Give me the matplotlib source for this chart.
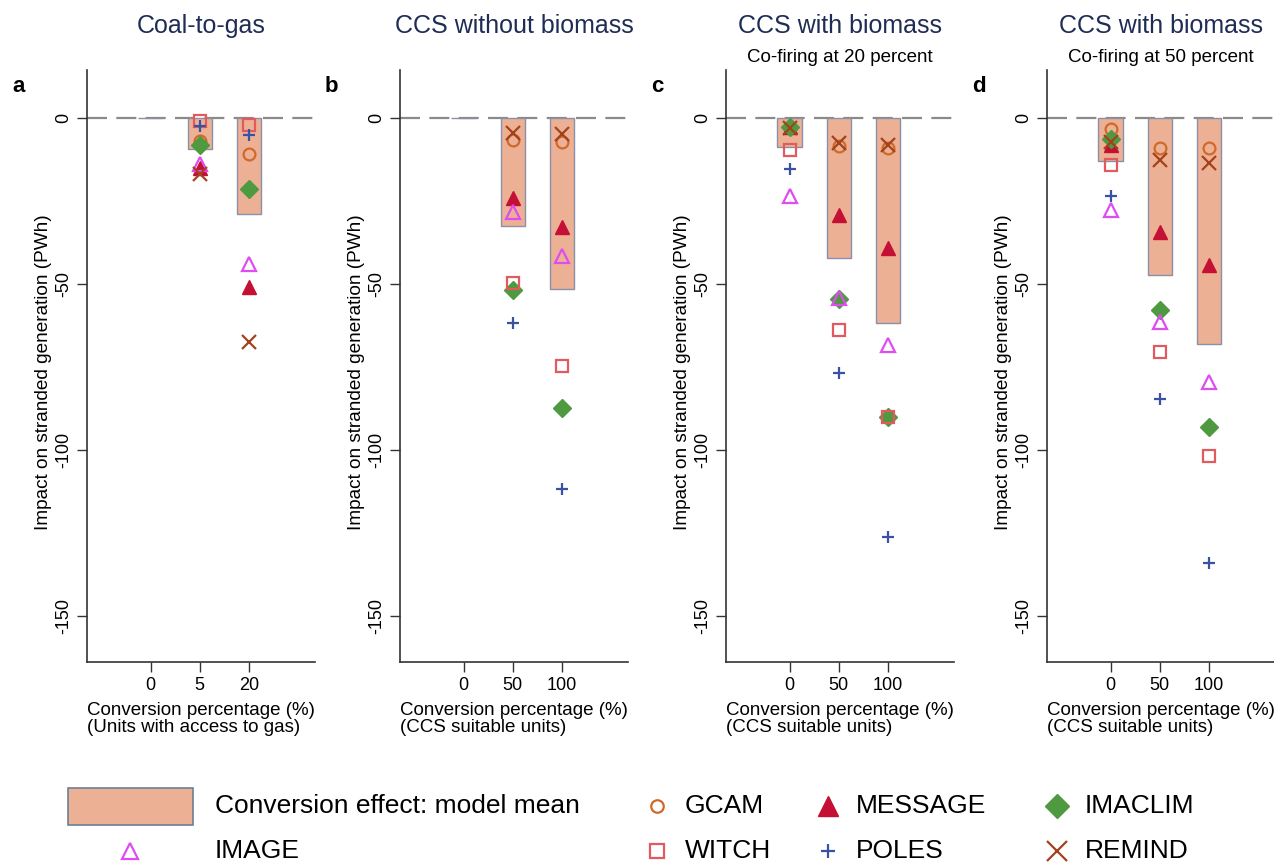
import numpy as np
import matplotlib
matplotlib.use('Agg')
import matplotlib.pyplot as plt
from matplotlib.patches import Rectangle

plt.rcParams['font.family'] = ['Liberation Sans', 'DejaVu Sans']

# panel text
letters = ['a', 'b', 'c', 'd']
titles = ['Coal-to-gas', 'CCS without biomass', 'CCS with biomass', 'CCS with biomass']
subtitles = ['', '', 'Co-firing at 20 percent', 'Co-firing at 50 percent']
xticklabels = [['0', '5', '20'], ['0', '50', '100'], ['0', '50', '100'], ['0', '50', '100']]
xnotes = ['(Units with access to gas)', '(CCS suitable units)',
          '(CCS suitable units)', '(CCS suitable units)']

models = ['GCAM', 'MESSAGE', 'IMACLIM', 'IMAGE', 'WITCH', 'POLES', 'REMIND']

# model mean (bars), PWh, for each conversion level
mean_a = [0.0, -9.2, -29.0]
mean_b = [0.0, -32.6, -51.6]
mean_c = [-8.6, -42.3, -61.9]
mean_d = [-12.8, -47.3, -68.2]

# individual model results, PWh (nan = not shown)
nan = np.nan
models_a = {
    'GCAM':    [nan, -6.9, -10.9],
    'MESSAGE': [nan, -14.9, -51.0],
    'IMACLIM': [nan, -8.2, -21.5],
    'IMAGE':   [nan, -13.7, -43.9],
    'WITCH':   [nan, -0.8, -2.1],
    'POLES':   [nan, -2.4, -5.1],
    'REMIND':  [nan, -16.9, -67.6],
}
models_b = {
    'GCAM':    [nan, -6.6, -7.1],
    'MESSAGE': [nan, -24.2, -32.8],
    'IMACLIM': [nan, -51.9, -87.5],
    'IMAGE':   [nan, -28.2, -41.6],
    'WITCH':   [nan, -49.7, -74.9],
    'POLES':   [nan, -61.7, -111.9],
    'REMIND':  [nan, -4.4, -4.9],
}
models_c = {
    'GCAM':    [-3.0, -8.4, -8.9],
    'MESSAGE': [-2.8, -29.2, -39.3],
    'IMACLIM': [-2.8, -54.4, -90.0],
    'IMAGE':   [-23.6, -54.2, -68.5],
    'WITCH':   [-9.7, -63.8, -90.2],
    'POLES':   [-15.3, -76.8, -126.4],
    'REMIND':  [-3.0, -7.4, -8.1],
}
models_d = {
    'GCAM':    [-3.3, -9.1, -9.1],
    'MESSAGE': [-8.1, -34.3, -44.4],
    'IMACLIM': [-6.3, -57.9, -93.2],
    'IMAGE':   [-27.7, -61.5, -79.6],
    'WITCH':   [-14.1, -70.5, -101.9],
    'POLES':   [-23.5, -84.8, -134.2],
    'REMIND':  [-7.1, -12.6, -13.4],
}

means = [mean_a, mean_b, mean_c, mean_d]
results = [models_a, models_b, models_c, models_d]

style = {
    'GCAM':    dict(marker='o', mfc='none', mec='#d0692a', ms=8.5, mew=1.6),
    'MESSAGE': dict(marker='^', mfc='#c41034', mec='#c41034', ms=10, mew=1),
    'IMACLIM': dict(marker='D', mfc='#4f9a40', mec='#4f9a40', ms=9, mew=1),
    'IMAGE':   dict(marker='^', mfc='none', mec='#de4cf2', ms=10, mew=1.6),
    'WITCH':   dict(marker='s', mfc='none', mec='#e05a5e', ms=8.5, mew=1.6),
    'POLES':   dict(marker='+', mfc='none', mec='#3a52a4', ms=9, mew=1.6),
    'REMIND':  dict(marker='x', mfc='none', mec='#a3431c', ms=10, mew=1.6),
}
legend_ms = {'GCAM': 9, 'MESSAGE': 14, 'IMACLIM': 12, 'IMAGE': 12,
             'WITCH': 10.5, 'POLES': 9.5, 'REMIND': 14}
bar_color = '#ecb195'
bar_edge = '#8c8fa8'
title_color = '#1f2d55'

fig = plt.figure(figsize=(12.74, 8.64), dpi=100)
W, H = 1274.0, 864.0
lefts = [87, 400, 726, 1047]
ax_w = 228
top, bottom = 70, 662

for i in range(4):
    ax = fig.add_axes([lefts[i] / W, 1 - bottom / H, ax_w / W, (bottom - top) / H])
    x = np.arange(3)
    ax.axhline(0, color='#8a8a8a', lw=1.6, dashes=(9, 4.2), zorder=1)
    ax.bar(x, means[i], width=0.5, color=bar_color, edgecolor=bar_edge, lw=1, zorder=2)
    for m in models:
        ax.plot(x, results[i][m], ls='none', zorder=3, **style[m])
    ax.set_xlim(-1.3, 3.35)
    ax.set_ylim(-164, 14.5)
    ax.set_xticks(x)
    ax.set_xticklabels(xticklabels[i], fontsize=13)
    ax.set_yticks([0, -50, -100, -150])
    ax.set_yticklabels(['0', '-50', '-100', '-150'], fontsize=13, rotation=90, va='center')
    ax.tick_params(length=7, width=1, color='#333333')
    for s in ['top', 'right']:
        ax.spines[s].set_visible(False)
    for s in ['left', 'bottom']:
        ax.spines[s].set_linewidth(1.2)
        ax.spines[s].set_color('#333333')
    ax.set_xlabel('Conversion percentage (%)\n' + xnotes[i], fontsize=13.5,
                  loc='left', linespacing=1.0, labelpad=6)
    ax.set_ylabel('Impact on stranded generation (PWh)', fontsize=13.7)
    ax.yaxis.set_label_coords(-0.155, 0.49)
    ax.text(0.5, 1 + 44 / 592, titles[i], transform=ax.transAxes, ha='center',
            va='center', fontsize=18, color=title_color)
    if subtitles[i]:
        ax.text(0.5, 1 + 13 / 592, subtitles[i], transform=ax.transAxes, ha='center',
                va='center', fontsize=13.5)
    ax.text(-0.3, 1 - 16 / 592, letters[i], transform=ax.transAxes, ha='center',
            va='center', fontsize=16, fontweight='bold')

# legend, drawn by hand in pixel space
lax = fig.add_axes([0, 0, 1, 1], zorder=-1)
lax.set_xlim(0, W)
lax.set_ylim(H, 0)
lax.axis('off')
lax.add_patch(Rectangle((68, 788), 125, 37, facecolor=bar_color, edgecolor='#6f7f96', lw=1.2))
lax.text(215, 806, 'Conversion effect: model mean', fontsize=19, va='center')
leg_items = [('GCAM', 657, 806), ('MESSAGE', 828, 806), ('IMACLIM', 1057, 806),
             ('IMAGE', 130, 851), ('WITCH', 657, 851), ('POLES', 828, 851), ('REMIND', 1057, 851)]
for name, lx, ly in leg_items:
    st = dict(style[name])
    st['ms'] = legend_ms[name]
    lax.plot([lx], [ly], ls='none', **st)
    tx = 215 if name == 'IMAGE' else lx + 28
    lax.text(tx, ly, name, fontsize=19, va='center')

fig.savefig('out.png', dpi=100)
